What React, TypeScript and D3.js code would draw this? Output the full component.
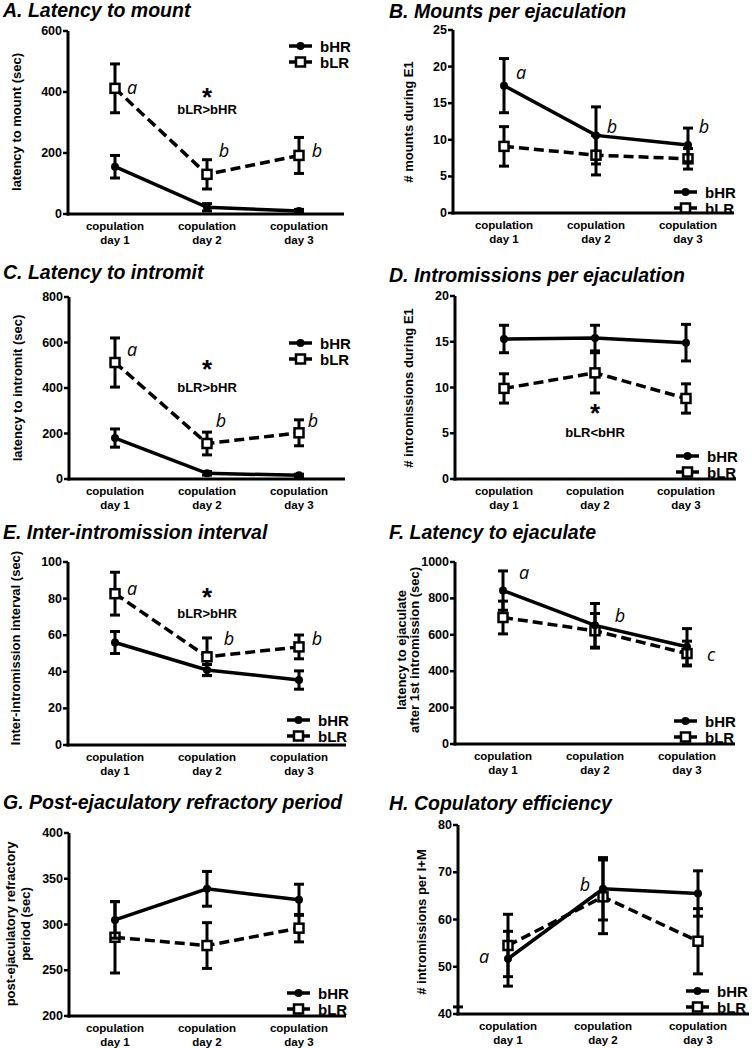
import React from 'react';
import * as d3 from 'd3';

// ---------- shared categories / labels ----------
const categories = ['day1', 'day2', 'day3'];
const tickLine1 = ['copulation', 'copulation', 'copulation'];
const tickLine2 = ['day 1', 'day 2', 'day 3'];
const seriesNames = ['bHR', 'bLR'];

// ---------- A. Latency to mount ----------
const mountLatHR = [155, 22, 10];
const mountLatHRsem = [37, 12, 5];
const mountLatLR = [412, 130, 192];
const mountLatLRsem = [80, 48, 59];
const mountLatTicks = [0, 200, 400, 600];

// ---------- B. Mounts per ejaculation ----------
const mountsHR = [17.4, 10.6, 9.3];
const mountsHRsem = [3.7, 3.9, 2.3];
const mountsLR = [9.1, 7.9, 7.4];
const mountsLRsem = [2.7, 2.7, 1.4];
const mountsTicks = [0, 5, 10, 15, 20, 25];

// ---------- C. Latency to intromit ----------
const introLatHR = [180, 25, 16];
const introLatHRsem = [40, 8, 5];
const introLatLR = [512, 156, 203];
const introLatLRsem = [108, 50, 57];
const introLatTicks = [0, 200, 400, 600, 800];

// ---------- D. Intromissions per ejaculation ----------
const intromHR = [15.3, 15.4, 14.9];
const intromHRsem = [1.5, 1.4, 2.0];
const intromLR = [9.9, 11.6, 8.8];
const intromLRsem = [1.6, 2.2, 1.6];
const intromTicks = [0, 5, 10, 15, 20];

// ---------- E. Inter-intromission interval ----------
const iiiHR = [56, 41, 35.5];
const iiiHRsem = [6, 3, 5];
const iiiLR = [82.7, 48.2, 53.6];
const iiiLRsem = [11.7, 10.3, 6.5];
const iiiTicks = [0, 20, 40, 60, 80, 100];

// ---------- F. Latency to ejaculate ----------
const ejacHR = [843, 652, 534];
const ejacHRsem = [108, 120, 100];
const ejacLR = [695, 622, 497];
const ejacLRsem = [90, 95, 68];
const ejacTicks = [0, 200, 400, 600, 800, 1000];

// ---------- G. Post-ejaculatory refractory period ----------
const perpHR = [305, 339, 327];
const perpHRsem = [20, 19, 17];
const perpLR = [286, 277, 296];
const perpLRsem = [39, 25, 15];
const perpTicks = [200, 250, 300, 350, 400];

// ---------- H. Copulatory efficiency ----------
const effHR = [51.7, 66.5, 65.5];
const effHRsem = [5.8, 6.6, 4.8];
const effLR = [54.5, 64.8, 55.4];
const effLRsem = [6.6, 7.8, 6.9];
const effTicks = [40, 50, 60, 70, 80];

const FONT = '"Liberation Sans", Arial, Helvetica, sans-serif';
const LETTER_FONT = '"Open Sans", "Liberation Sans", sans-serif';

type Ann = { cat: number; v: number; dx: number; text: string; kind: 'letter' | 'star' | 'note' };

type PanelCfg = {
  title: string;
  titleX: number;
  titleY: number;
  ylabel: string[];
  ylabelX: number[];
  ylabelY: number;
  ticks: number[];
  hr: number[];
  hrSem: number[];
  lr: number[];
  lrSem: number[];
  axisX: number;
  axisRight: number;
  yTop: number;
  yBot: number;
  c0: number;
  c2: number;
  legX: number;
  legY: number;
  ann: Ann[];
  stray?: number;
};

const panels: PanelCfg[] = [
  {
    title: 'A. Latency to mount', titleX: 3, titleY: 17,
    ylabel: ['latency to mount (sec)'], ylabelX: [16], ylabelY: 122,
    ticks: mountLatTicks, hr: mountLatHR, hrSem: mountLatHRsem, lr: mountLatLR, lrSem: mountLatLRsem,
    axisX: 68, axisRight: 344, yTop: 31, yBot: 214, c0: 115, c2: 299,
    legX: 289, legY: 46,
    ann: [
      { cat: 0, v: 416, dx: 17, text: 'a', kind: 'letter' },
      { cat: 1, v: 398, dx: 0, text: '*', kind: 'star' },
      { cat: 1, v: 341, dx: 0, text: 'bLR>bHR', kind: 'note' },
      { cat: 1, v: 210, dx: 17, text: 'b', kind: 'letter' },
      { cat: 2, v: 210, dx: 18, text: 'b', kind: 'letter' },
    ],
  },
  {
    title: 'B. Mounts per ejaculation', titleX: 389, titleY: 18,
    ylabel: ['# mounts during E1'], ylabelX: [408], ylabelY: 122,
    ticks: mountsTicks, hr: mountsHR, hrSem: mountsHRsem, lr: mountsLR, lrSem: mountsLRsem,
    axisX: 453, axisRight: 734, yTop: 30, yBot: 213, c0: 504, c2: 688,
    legX: 674, legY: 192,
    ann: [
      { cat: 0, v: 19.3, dx: 17, text: 'a', kind: 'letter' },
      { cat: 1, v: 11.9, dx: 16, text: 'b', kind: 'letter' },
      { cat: 2, v: 11.9, dx: 16, text: 'b', kind: 'letter' },
    ],
  },
  {
    title: 'C. Latency to intromit', titleX: 3, titleY: 279,
    ylabel: ['latency to intromit (sec)'], ylabelX: [17], ylabelY: 388,
    ticks: introLatTicks, hr: introLatHR, hrSem: introLatHRsem, lr: introLatLR, lrSem: introLatLRsem,
    axisX: 69, axisRight: 345, yTop: 297, yBot: 479, c0: 115, c2: 299,
    legX: 289, legY: 343,
    ann: [
      { cat: 0, v: 571, dx: 17, text: 'a', kind: 'letter' },
      { cat: 1, v: 502, dx: 0, text: '*', kind: 'star' },
      { cat: 1, v: 404, dx: 0, text: 'bLR>bHR', kind: 'note' },
      { cat: 1, v: 259, dx: 14, text: 'b', kind: 'letter' },
      { cat: 2, v: 259, dx: 14, text: 'b', kind: 'letter' },
    ],
  },
  {
    title: 'D. Intromissions per ejaculation', titleX: 389, titleY: 282,
    ylabel: ['# intromissions during E1'], ylabelX: [408], ylabelY: 388,
    ticks: intromTicks, hr: intromHR, hrSem: intromHRsem, lr: intromLR, lrSem: intromLRsem,
    axisX: 455, axisRight: 736, yTop: 296, yBot: 479, c0: 504, c2: 686,
    legX: 676, legY: 456,
    ann: [
      { cat: 1, v: 7.7, dx: 0, text: '*', kind: 'star' },
      { cat: 1, v: 5.1, dx: 0, text: 'bLR<bHR', kind: 'note' },
    ],
  },
  {
    title: 'E. Inter-intromission interval', titleX: 3, titleY: 539,
    ylabel: ['Inter-intromission interval (sec)'], ylabelX: [15], ylabelY: 648,
    ticks: iiiTicks, hr: iiiHR, hrSem: iiiHRsem, lr: iiiLR, lrSem: iiiLRsem,
    axisX: 68, axisRight: 346, yTop: 562, yBot: 745, c0: 115, c2: 299,
    legX: 287, legY: 720,
    ann: [
      { cat: 0, v: 86, dx: 17, text: 'a', kind: 'letter' },
      { cat: 1, v: 83, dx: 0, text: '*', kind: 'star' },
      { cat: 1, v: 72, dx: 0, text: 'bLR>bHR', kind: 'note' },
      { cat: 1, v: 58.5, dx: 22, text: 'b', kind: 'letter' },
      { cat: 2, v: 58.5, dx: 18, text: 'b', kind: 'letter' },
    ],
  },
  {
    title: 'F. Latency to ejaculate', titleX: 389, titleY: 539,
    ylabel: ['latency to ejaculate', 'after 1st intromission  (sec)'], ylabelX: [401, 414], ylabelY: 650,
    ticks: ejacTicks, hr: ejacHR, hrSem: ejacHRsem, lr: ejacLR, lrSem: ejacLRsem,
    axisX: 455, axisRight: 735, yTop: 562, yBot: 744, c0: 503, c2: 687,
    legX: 674, legY: 721,
    ann: [
      { cat: 0, v: 945, dx: 21, text: 'a', kind: 'letter' },
      { cat: 1, v: 709, dx: 25, text: 'b', kind: 'letter' },
      { cat: 2, v: 495, dx: 24, text: 'c', kind: 'letter' },
    ],
  },
  {
    title: 'G. Post-ejaculatory refractory period', titleX: 3, titleY: 809,
    ylabel: ['post-ejaculatory refractory', 'period (sec)'], ylabelX: [10, 25], ylabelY: 924,
    ticks: perpTicks, hr: perpHR, hrSem: perpHRsem, lr: perpLR, lrSem: perpLRsem,
    axisX: 69, axisRight: 346, yTop: 833, yBot: 1016, c0: 115, c2: 299,
    legX: 287, legY: 993,
    ann: [],
  },
  {
    title: 'H. Copulatory efficiency', titleX: 389, titleY: 810,
    ylabel: ['# intromissions per I+M'], ylabelX: [421], ylabelY: 922,
    ticks: effTicks, hr: effHR, hrSem: effHRsem, lr: effLR, lrSem: effLRsem,
    axisX: 458, axisRight: 749, yTop: 825, yBot: 1014, c0: 508, c2: 698,
    legX: 686, legY: 991,
    ann: [
      { cat: 0, v: 52.3, dx: -24, text: 'a', kind: 'letter' },
      { cat: 1, v: 67.5, dx: -18, text: 'b', kind: 'letter' },
    ],
    stray: 41.5,
  },
];

const LINE_W = 3.5;
const DASH = '10,5';

function Series({ x, y, vals, sems, dashed, marker }: any) {
  const line = d3
    .line<number>()
    .x((_, i) => x(categories[i]) as number)
    .y((d) => y(d));
  return (
    <g>
      {vals.map((v: number, i: number) => {
        const cx = x(categories[i]) as number;
        const y1 = y(v + sems[i]);
        const y2 = y(v - sems[i]);
        return (
          <g key={'e' + i} stroke="#000" strokeWidth={3}>
            <line x1={cx} x2={cx} y1={y1} y2={y2} />
            <line x1={cx - 5} x2={cx + 5} y1={y1} y2={y1} />
            <line x1={cx - 5} x2={cx + 5} y1={y2} y2={y2} />
          </g>
        );
      })}
      <path d={line(vals) || ''} fill="none" stroke="#000" strokeWidth={LINE_W} strokeDasharray={dashed ? DASH : undefined} />
      {vals.map((v: number, i: number) => {
        const cx = x(categories[i]) as number;
        const cy = y(v);
        return marker === 'circle' ? (
          <circle key={'m' + i} cx={cx} cy={cy} r={4} fill="#000" />
        ) : (
          <rect key={'m' + i} x={cx - 4.5} y={cy - 4.5} width={9} height={9} fill="#fff" stroke="#000" strokeWidth={2.5} />
        );
      })}
    </g>
  );
}

function Panel({ p }: { p: PanelCfg }) {
  const y = d3.scaleLinear().domain([p.ticks[0], p.ticks[p.ticks.length - 1]]).range([p.yBot, p.yTop]);
  const x = d3.scalePoint<string>().domain(categories).range([p.c0, p.c2]);
  return (
    <g fontFamily={FONT}>
      <text x={p.titleX} y={p.titleY} fontSize={19.5} fontWeight="bold" fontStyle="italic">
        {p.title}
      </text>
      {p.ylabel.map((t, i) => (
        <text
          key={i}
          transform={`translate(${p.ylabelX[i]},${p.ylabelY}) rotate(-90)`}
          textAnchor="middle"
          dominantBaseline="central"
          fontSize={13}
          fontWeight="bold"
        >
          {t}
        </text>
      ))}
      {/* axes */}
      <line x1={p.axisX} x2={p.axisX} y1={p.yTop} y2={p.yBot + 1.5} stroke="#000" strokeWidth={3} />
      <line x1={p.axisX - 1.5} x2={p.axisRight} y1={p.yBot} y2={p.yBot} stroke="#000" strokeWidth={3} />
      {p.ticks.map((t) => (
        <g key={t}>
          <line x1={p.axisX - 5} x2={p.axisX} y1={y(t)} y2={y(t)} stroke="#000" strokeWidth={2.5} />
          <text x={p.axisX - 6} y={y(t)} textAnchor="end" dominantBaseline="central" fontSize={12.5} fontWeight="bold">
            {t}
          </text>
        </g>
      ))}
      {p.stray !== undefined && (
        <line x1={p.axisX - 5} x2={p.axisX + 5} y1={y(p.stray)} y2={y(p.stray)} stroke="#000" strokeWidth={3} />
      )}
      {categories.map((c, i) => (
        <g key={c}>
          <text x={x(c)} y={p.yBot + 16} textAnchor="middle" fontSize={11.5} fontWeight="bold">
            {tickLine1[i]}
          </text>
          <text x={x(c)} y={p.yBot + 30} textAnchor="middle" fontSize={11.5} fontWeight="bold">
            {tickLine2[i]}
          </text>
        </g>
      ))}
      {/* series */}
      <Series x={x} y={y} vals={p.lr} sems={p.lrSem} dashed marker="square" />
      <Series x={x} y={y} vals={p.hr} sems={p.hrSem} dashed={false} marker="circle" />
      {/* annotations */}
      {p.ann.map((a, i) => {
        const ax = (x(categories[a.cat]) as number) + a.dx;
        const ay = y(a.v);
        if (a.kind === 'letter')
          return (
            <text key={i} x={ax} y={ay} textAnchor="middle" dominantBaseline="central" fontSize={18} fontStyle="italic" fontFamily={LETTER_FONT}>
              {a.text}
            </text>
          );
        if (a.kind === 'star')
          return (
            <text key={i} x={ax} y={ay + 13} textAnchor="middle" fontSize={26} fontWeight="bold">
              {a.text}
            </text>
          );
        return (
          <text key={i} x={ax} y={ay} textAnchor="middle" dominantBaseline="central" fontSize={13} fontWeight="bold">
            {a.text}
          </text>
        );
      })}
      {/* legend */}
      {seriesNames.map((s, i) => {
        const ly = p.legY + i * 16;
        const mx = p.legX + 11.5;
        return (
          <g key={s}>
            <line x1={p.legX} x2={p.legX + 23} y1={ly} y2={ly} stroke="#000" strokeWidth={LINE_W} />
            {i === 0 ? (
              <circle cx={mx} cy={ly} r={4} fill="#000" />
            ) : (
              <rect x={mx - 4.5} y={ly - 4.5} width={9} height={9} fill="#fff" stroke="#000" strokeWidth={2.5} />
            )}
            <text x={p.legX + 31} y={ly} dominantBaseline="central" fontSize={15} fontWeight="bold">
              {s}
            </text>
          </g>
        );
      })}
    </g>
  );
}

export default function App() {
  return (
    <svg
      width={752}
      height={1048}
      viewBox="0 0 752 1048"
      style={{ position: 'absolute', left: 0, top: 0, background: '#fff' }}
    >
      <rect width={752} height={1048} fill="#fff" />
      {panels.map((p) => (
        <Panel key={p.title} p={p} />
      ))}
    </svg>
  );
}
